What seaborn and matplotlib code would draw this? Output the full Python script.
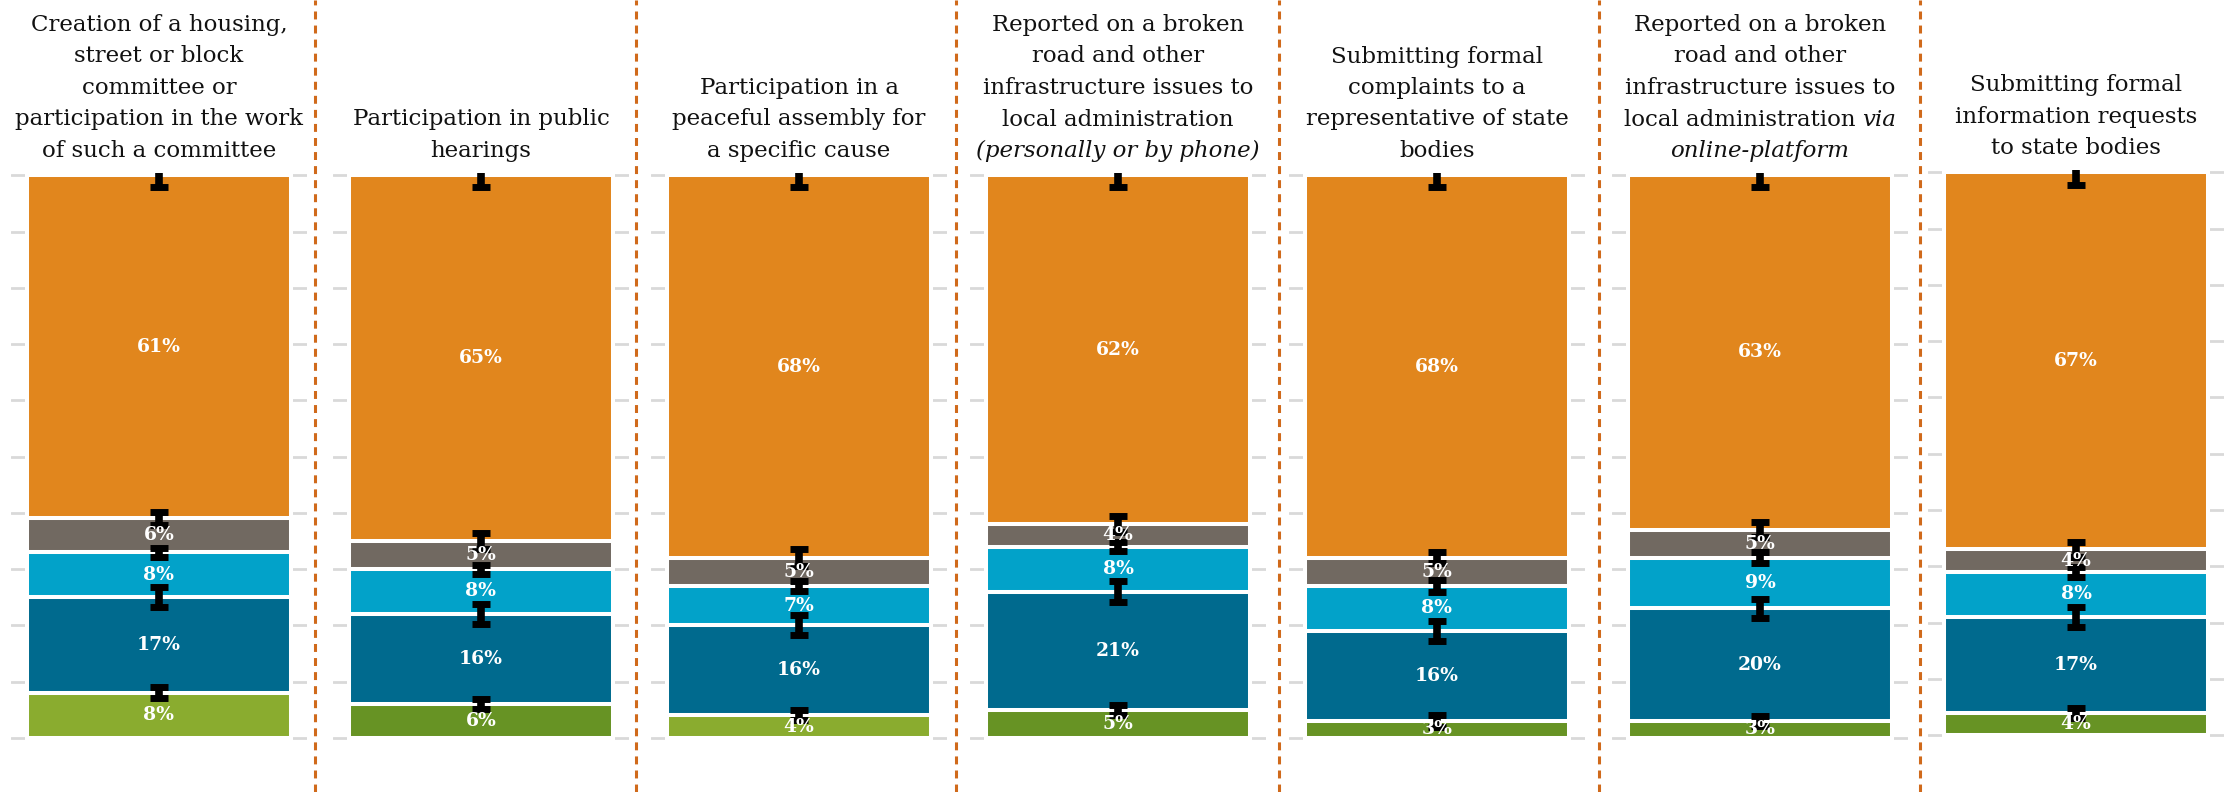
import matplotlib
matplotlib.use("Agg")
import matplotlib.pyplot as plt
import seaborn as sns
import pandas as pd
import numpy as np
from matplotlib.lines import Line2D

# ---------------- data ----------------
titles = [
    [[("Creation of a housing,", False)], [("street or block", False)], [("committee or", False)],
     [("participation in the work", False)], [("of such a committee", False)]],
    [[("Participation in public", False)], [("hearings", False)]],
    [[("Participation in a", False)], [("peaceful assembly for", False)], [("a specific cause", False)]],
    [[("Reported on a broken", False)], [("road and other", False)], [("infrastructure issues to", False)],
     [("local administration", False)], [("(personally or by phone)", True)]],
    [[("Submitting formal", False)], [("complaints to a", False)], [("representative of state", False)],
     [("bodies", False)]],
    [[("Reported on a broken", False)], [("road and other", False)], [("infrastructure issues to", False)],
     [("local administration", False), ("via", True)], [("online-platform", True)]],
    [[("Submitting formal", False)], [("information requests", False)], [("to state bodies", False)]],
]

green = [8, 6, 4, 5, 3, 3, 4]
dark_blue = [17, 16, 16, 21, 16, 20, 17]
cyan = [8, 8, 7, 8, 8, 9, 8]
grey = [6, 5, 5, 4, 5, 5, 4]
orange = [61, 65, 68, 62, 68, 63, 67]

# error half-widths (percentage points) at the top of each stacked segment
err_green = [1.0, 0.9, 0.9, 0.9, 1.0, 0.9, 0.9]
err_dark_blue = [1.8, 1.8, 1.8, 1.9, 1.8, 1.7, 1.8]
err_cyan = [0.8, 0.8, 0.9, 0.8, 1.0, 1.0, 0.9]
err_grey = [1.2, 1.4, 1.5, 1.4, 1.0, 1.3, 1.4]
err_orange = [2.0, 2.0, 2.0, 2.0, 2.0, 2.0, 2.2]

# shade of green used in each panel
green_shade = ["light", "dark", "light", "dark", "dark", "dark", "dark"]

# ---------------- style ----------------
C_ORANGE = "#E1861D"
C_GREY = "#716961"
C_CYAN = "#02A2C9"
C_DBLUE = "#006A8E"
C_GREEN = {"light": "#8AAC2F", "dark": "#679324"}
C_SEP = "#D06A1B"

sns.set_style("white")
SERIF = ["DejaVu Serif"]

W, H, DPI = 2225, 792, 100
fig = plt.figure(figsize=(W / DPI, H / DPI), dpi=DPI)
renderer = fig.canvas.get_renderer()

centers = [159, 481, 799, 1118, 1437, 1760, 2076]
seps = [315, 636, 956, 1279, 1599, 1920]
ax_w = 296
TITLE_SIZE = 16.5
LABEL_SIZE = 13.5
LINE_PX = 31.5
BASE_PX = 16


def px2pt(v):
    return v * 72.0 / DPI


def measure(s, italic):
    t = fig.text(0, 0, s, fontsize=TITLE_SIZE, family=SERIF,
                 fontstyle="italic" if italic else "normal")
    w = t.get_window_extent(renderer).width
    t.remove()
    return w


space_px = measure("a a", False) - measure("aa", False)


def draw_title(ax, lines):
    n = len(lines)
    for li, segs in enumerate(lines):
        dy = BASE_PX + (n - 1 - li) * LINE_PX
        widths = [measure(s, it) for s, it in segs]
        total = sum(widths) + space_px * (len(segs) - 1)
        x = -total / 2
        for (s, it), w in zip(segs, widths):
            ax.annotate(s, xy=(0.5, 1), xycoords="axes fraction",
                        xytext=(px2pt(x), px2pt(dy)), textcoords="offset points",
                        ha="left", va="baseline", fontsize=TITLE_SIZE, family=SERIF,
                        fontstyle="italic" if it else "normal", color="#111111",
                        annotation_clip=False)
            x += w + space_px


for i in range(7):
    top, bottom = (173, 740) if i < 6 else (170, 737.5)
    ax = fig.add_axes([(centers[i] - ax_w / 2) / W, (H - bottom) / H,
                       ax_w / W, (bottom - top) / H])
    segs = [green[i], dark_blue[i], cyan[i], grey[i], orange[i]]
    errs = [err_green[i], err_dark_blue[i], err_cyan[i], err_grey[i], err_orange[i]]
    cols = [C_GREEN[green_shade[i]], C_DBLUE, C_CYAN, C_GREY, C_ORANGE]
    cum = np.cumsum(segs)

    # draw cumulative bars from the tallest down so each stacks on top
    for k in reversed(range(5)):
        df = pd.DataFrame({"q": ["q"], "v": [cum[k]]})
        sns.barplot(data=df, x="q", y="v", color=cols[k], saturation=1,
                    width=0.895, edgecolor="white", linewidth=2.9,
                    errorbar=None, ax=ax, zorder=2)

    ax.errorbar([0] * 5, cum, yerr=errs, fmt="none", ecolor="black",
                elinewidth=5.5, capsize=6.5, capthick=5, zorder=4)

    for k in range(5):
        ax.text(0, cum[k] - segs[k] / 2, f"{segs[k]}%", ha="center", va="center",
                color="white", fontsize=LABEL_SIZE, fontweight="bold", family=SERIF, zorder=5)

    ax.set_xlim(-0.5, 0.5)
    ax.set_ylim(-0.4, 100.4)
    ax.set_yticks(range(0, 101, 10))
    ax.set_yticklabels([])
    ax.set_xticks([])
    ax.set_xlabel("")
    ax.set_ylabel("")
    ax.yaxis.grid(True, color="#D9D9D9", linewidth=2)
    ax.xaxis.grid(False)
    ax.set_axisbelow(True)
    ax.tick_params(length=0)
    for sp in ax.spines.values():
        sp.set_visible(False)

    draw_title(ax, titles[i])

for x in seps:
    fig.add_artist(Line2D([x / W, x / W], [0, 1], transform=fig.transFigure,
                          color=C_SEP, linewidth=2.2, linestyle=(0, (2.6, 2.0))))

fig.savefig("out.png", dpi=DPI)
